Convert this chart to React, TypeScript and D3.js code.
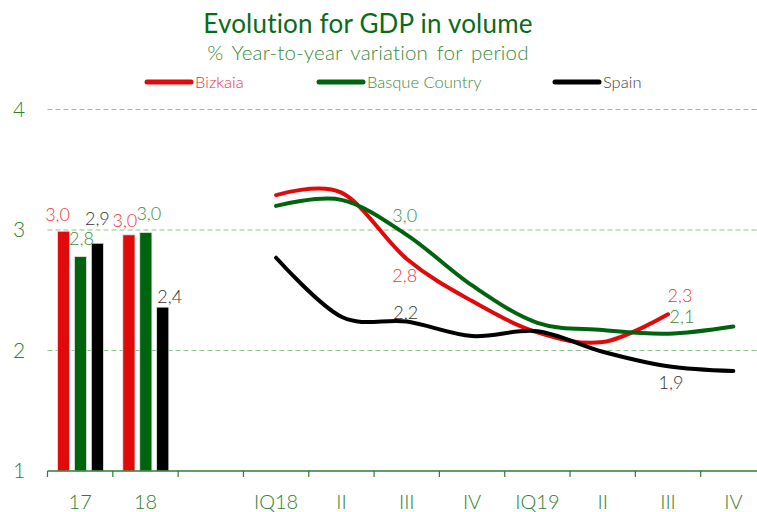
import React from "react";
import * as d3 from "d3";

const categories = ["17", "18", "", "IQ18", "II", "III", "IV", "IQ19", "II", "III", "IV"];
const seriesNames = ["Bizkaia", "Basque Country", "Spain"];
const seriesColors = ["#e00a0a", "#00640f", "#000000"];
const labelColors = ["#e8383d", "#3a8a3a", "#333333"];
const legendTextColors = ["#e8383d", "#3a8a3a", "#404040"];

// annual bars (17, 18)
const barYears = [0, 1];
const barBizkaia = [2.99, 2.96];
const barBasque = [2.78, 2.98];
const barSpain = [2.89, 2.36];

// quarterly lines (IQ18 .. IV19)
const lineIdx = [3, 4, 5, 6, 7, 8, 9, 10];
const lineBizkaia = [3.29, 3.31, 2.76, 2.41, 2.15, 2.07, 2.3, null];
const lineBasque = [3.2, 3.25, 2.96, 2.54, 2.23, 2.17, 2.14, 2.2];
const lineSpain = [2.77, 2.28, 2.24, 2.12, 2.16, 1.99, 1.87, 1.83];

const yTicks = [1, 2, 3, 4];

const W = 757;
const H = 512;

export default function App() {
  const x = d3.scaleBand<number>().domain(d3.range(categories.length)).range([47.5, 766]).paddingInner(0).paddingOuter(0);
  const y = d3.scaleLinear().domain([1, 4]).range([471, 109.5]);
  const inner = d3.scaleBand<number>().domain([0, 1, 2]).range([10, 56]).paddingInner(0.28).paddingOuter(0);

  const barSeries = [barBizkaia, barBasque, barSpain];
  const lineSeries = [lineBizkaia, lineBasque, lineSpain];

  const line = d3
    .line<[number, number | null]>()
    .defined((d) => d[1] != null)
    .x((d) => (x(d[0]) as number) + x.bandwidth() / 2)
    .y((d) => y(d[1] as number))
    .curve(d3.curveCardinal.tension(0));

  const fmt = (v: number) => v.toFixed(1).replace(".", ",");

  // bar label offsets [series][year] : dx, dy
  const barLabelOff = [
    [[-6, -10], [-4, -8]],
    [[1, -12], [3, -12]],
    [[0, -18], [7, -4]],
  ];

  const lineLabels = [
    { s: 0, i: 2, dx: -2, dy: 23 },
    { s: 1, i: 2, dx: -2, dy: -13 },
    { s: 2, i: 2, dx: -1, dy: -3 },
    { s: 0, i: 6, dx: 12, dy: -12 },
    { s: 1, i: 6, dx: 14, dy: -11 },
    { s: 2, i: 6, dx: 3, dy: 23 },
  ];

  const font = "Lato, 'Open Sans', sans-serif";
  const axisGreen = "#2e7d32";
  const legend = [
    { x1: 147, x2: 191 },
    { x1: 319, x2: 363 },
    { x1: 555, x2: 599 },
  ];

  return (
    <svg width={W} height={H} style={{ position: "absolute", left: 0, top: 0, background: "#fff" }} fontFamily={font}>
      <text x={368} y={33} textAnchor="middle" fontSize={26} fill="#0a6b17" letterSpacing={0.2}>
        Evolution for GDP in volume
      </text>
      <text x={368} y={60} textAnchor="middle" fontSize={20.5} fill="#3a8a3a" fontWeight={300} wordSpacing={3} letterSpacing={0.2}>
        % Year-to-year variation for period
      </text>
      {legend.map((l, i) => (
        <g key={i}>
          <line x1={l.x1} x2={l.x2} y1={82} y2={82} stroke={seriesColors[i]} strokeWidth={5} strokeLinecap="round" />
          <text x={l.x2 + 4} y={88} fontSize={16.5} fontWeight={300} fill={legendTextColors[i]}>
            {seriesNames[i]}
          </text>
        </g>
      ))}
      {yTicks.map((t) => (
        <g key={t}>
          {t > 1 && (
            <line x1={47.5} x2={W} y1={y(t)} y2={y(t)} stroke="#8fc08f" strokeWidth={1.2} strokeDasharray="5,3" />
          )}
          <text x={19} y={y(t) + 7} textAnchor="middle" fontSize={21} fontWeight={300} fill={axisGreen}>
            {t}
          </text>
        </g>
      ))}
      {barYears.map((yi, j) =>
        barSeries.map((vals, s) => {
          const bx = (x(yi) as number) + (inner(s) as number);
          return (
            <rect
              key={`${j}-${s}`}
              x={bx}
              y={y(vals[j])}
              width={inner.bandwidth()}
              height={y(1) - y(vals[j])}
              fill={seriesColors[s]}
              stroke="#e6e6e6"
              strokeWidth={0.8}
            />
          );
        })
      )}
      {barYears.map((yi, j) =>
        barSeries.map((vals, s) => {
          const cx = (x(yi) as number) + (inner(s) as number) + inner.bandwidth() / 2;
          const [dx, dy] = barLabelOff[s][j];
          return (
            <text key={`l${j}-${s}`} x={cx + dx} y={y(vals[j]) + dy} textAnchor="middle" fontSize={18} fontWeight={300} fill={labelColors[s]}>
              {fmt(vals[j])}
            </text>
          );
        })
      )}
      {lineSeries.map((vals, s) => (
        <path
          key={s}
          d={line(lineIdx.map((li, k) => [li, vals[k]] as [number, number | null])) || ""}
          fill="none"
          stroke={seriesColors[s]}
          strokeWidth={4}
          strokeLinecap="round"
        />
      ))}
      {lineLabels.map((l, k) => {
        const v = lineSeries[l.s][l.i] as number;
        const cx = (x(lineIdx[l.i]) as number) + x.bandwidth() / 2;
        return (
          <text key={k} x={cx + l.dx} y={y(v) + l.dy} textAnchor="middle" fontSize={18} fontWeight={300} fill={labelColors[l.s]}>
            {fmt(v)}
          </text>
        );
      })}
      <line x1={47.5} x2={W} y1={471} y2={471} stroke={axisGreen} strokeWidth={1.5} />
      {d3.range(categories.length).map((i) => (
        <line key={i} x1={x(i) as number} x2={x(i) as number} y1={471} y2={477} stroke={axisGreen} strokeWidth={1.2} />
      ))}
      {categories.map((c, i) => (
        <text key={i} x={(x(i) as number) + x.bandwidth() / 2} y={509} textAnchor="middle" fontSize={20} fontWeight={300} fill={axisGreen}>
          {c}
        </text>
      ))}
    </svg>
  );
}
